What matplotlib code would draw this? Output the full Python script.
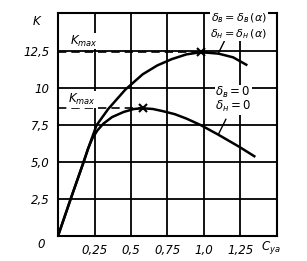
import numpy as np
import matplotlib.pyplot as plt

# данные
cy_upr = [0, 0.09, 0.175, 0.22, 0.264, 0.344, 0.46, 0.58, 0.68, 0.78, 0.88, 0.98, 1.1, 1.2, 1.29]
k_upr = [0, 2.6, 5.0, 6.3, 7.5, 8.6, 9.9, 10.95, 11.55, 11.98, 12.3, 12.45, 12.35, 12.1, 11.6]

cy_nol = [0, 0.09, 0.175, 0.205, 0.235, 0.27, 0.31, 0.37, 0.45, 0.52, 0.58, 0.65, 0.72, 0.8,
          0.88, 0.98, 1.1, 1.24, 1.345]
k_nol = [0, 2.6, 5.0, 5.9, 6.6, 7.15, 7.6, 8.05, 8.4, 8.6, 8.65, 8.6, 8.45, 8.25,
         7.95, 7.5, 6.85, 6.05, 5.4]

kmax_upr = (0.98, 12.45)
kmax_nol = (0.58, 8.65)

x_ticks = [0.25, 0.5, 0.75, 1.0, 1.25]
x_labels = ['0,25', '0,5', '0,75', '1,0', '1,25']
y_ticks = [2.5, 5.0, 7.5, 10, 12.5]
y_labels = ['2,5', '5,0', '7,5', '10', '12,5']

plt.rcParams['font.family'] = 'DejaVu Sans'
plt.rcParams['mathtext.fontset'] = 'dejavusans'

fig = plt.figure(figsize=(3.07, 2.61), dpi=100)
ax = fig.add_axes([0.189, 0.096, 0.713, 0.854])
ax.set_xlim(0, 1.5)
ax.set_ylim(0, 15.1)

# сетка
for x in np.arange(0.25, 1.5, 0.25):
    ax.axvline(x, color='black', lw=1.3, zorder=1)
for y in np.arange(2.5, 15, 2.5):
    ax.axhline(y, color='black', lw=1.3, zorder=1)
for s in ax.spines.values():
    s.set_linewidth(1.5)

ax.plot(cy_upr, k_upr, color='black', lw=1.8, zorder=3)
ax.plot(cy_nol, k_nol, color='black', lw=1.8, zorder=3)

# K max
ax.plot([0, kmax_upr[0]], [kmax_upr[1], kmax_upr[1]], color='black', lw=1.2, ls=(0, (5, 3)), zorder=3)
ax.plot([0, kmax_nol[0]], [kmax_nol[1], kmax_nol[1]], color='black', lw=1.2, ls=(0, (5, 3)), zorder=3)
ax.plot(*kmax_upr, marker='x', color='black', ms=6, mew=1.5, zorder=4)
ax.plot(*kmax_nol, marker='x', color='black', ms=6, mew=1.5, zorder=4)

tkw = dict(fontsize=8.5, style='italic', color='black', zorder=5,
           bbox=dict(facecolor='white', edgecolor='none', pad=0.5))
ax.text(0.18, 13.2, r'$K_{max}$', ha='center', va='center', **tkw)
ax.text(0.16, 9.25, r'$K_{max}$', ha='center', va='center', **tkw)

tkw['fontsize'] = 8
ax.text(1.24, 14.75, r'$\delta_{в}=\delta_{в}\,(\alpha)$', ha='center', va='center', **tkw)
ax.text(1.24, 13.7, r'$\delta_{н}=\delta_{н}\,(\alpha)$', ha='center', va='center', **tkw)
ax.plot([1.14, 1.1], [13.2, 12.4], color='black', lw=1.0, zorder=4)

tkw['fontsize'] = 8.5
ax.text(1.2, 9.7, r'$\delta_{в}=0$', ha='center', va='center', **tkw)
ax.text(1.2, 8.75, r'$\delta_{н}=0$', ha='center', va='center', **tkw)
ax.plot([1.1, 1.15], [6.9, 7.9], color='black', lw=1.0, zorder=4)

ax.set_xticks(x_ticks)
ax.set_xticklabels(x_labels, fontsize=8.5, style='italic')
ax.set_yticks(y_ticks)
ax.set_yticklabels(y_labels, fontsize=8.5, style='italic')
ax.tick_params(length=0, pad=6)

ax.text(-0.09, -0.6, '0', ha='right', va='center', fontsize=8.5, style='italic')
ax.text(-0.12, 14.5, 'K', ha='right', va='center', fontsize=8.5, style='italic')
ax.text(1.46, -0.8, r'$C_{ya}$', ha='center', va='center', fontsize=8.5, style='italic')

fig.savefig('out.png', dpi=100)
